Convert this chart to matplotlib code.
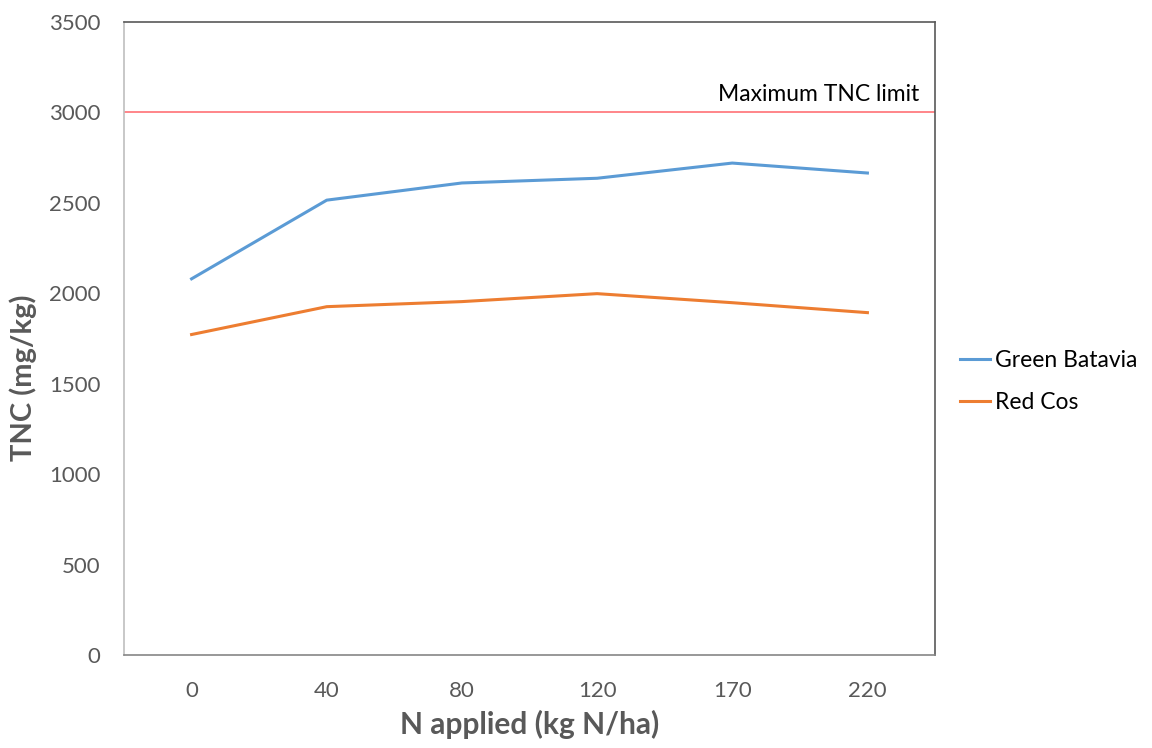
import matplotlib
matplotlib.use("Agg")
import matplotlib.pyplot as plt

categories = ["0", "40", "80", "120", "170", "220"]
green_batavia = [2080, 2515, 2610, 2636, 2720, 2665]
red_cos = [1772, 1926, 1954, 1998, 1948, 1893]
max_limit = 3000
yticks = [0, 500, 1000, 1500, 2000, 2500, 3000, 3500]

plt.rcParams['font.family'] = ['Lato', 'DejaVu Sans']

W, H = 1152, 748
fig = plt.figure(figsize=(W/100, H/100), dpi=100)
ax = fig.add_axes([124/W, 1 - 655/H, (935-124)/W, (655-22)/H])

x = list(range(len(categories)))
ax.plot(x, green_batavia, color='#5B9BD5', lw=2.2, label='Green Batavia')
ax.plot(x, red_cos, color='#ED7D31', lw=2.2, label='Red Cos')
ax.axhline(max_limit, color='#FF7C80', lw=1.3)
ax.text(5.38, max_limit + 40, 'Maximum TNC limit', ha='right', va='bottom',
        fontsize=16.5, color='black')

ax.set_xlim(-0.5, 5.5)
ax.set_ylim(0, 3500)
ax.set_xticks(x)
ax.set_xticklabels(categories)
ax.set_yticks(yticks)
ax.tick_params(axis='both', length=0, labelsize=16, labelcolor='#595959')
ax.tick_params(axis='x', pad=19)
ax.tick_params(axis='y', pad=17)

ax.spines['left'].set_color('#BFBFBF')
ax.spines['bottom'].set_color('#868686')
ax.spines['top'].set_color('#595959')
ax.spines['right'].set_color('#595959')
for s in ax.spines.values():
    s.set_linewidth(1.2)

ax.set_xlabel('N applied (kg N/ha)', fontsize=21.5, fontweight='bold', color='#595959', labelpad=6)
fig.text(23/W, 1 - 378/H, 'TNC (mg/kg)', rotation=90, ha='center', va='center',
         fontsize=21, fontweight='bold', color='#595959')

handles, labels = ax.get_legend_handles_labels()
fig.legend(handles, labels, loc='center left', bbox_to_anchor=(960/W, 1 - 381.5/H),
           frameon=False, fontsize=16.5, handlelength=1.3, handletextpad=0.22,
           labelspacing=0.95, borderpad=0, borderaxespad=0)

fig.savefig('out.png', dpi=100)
